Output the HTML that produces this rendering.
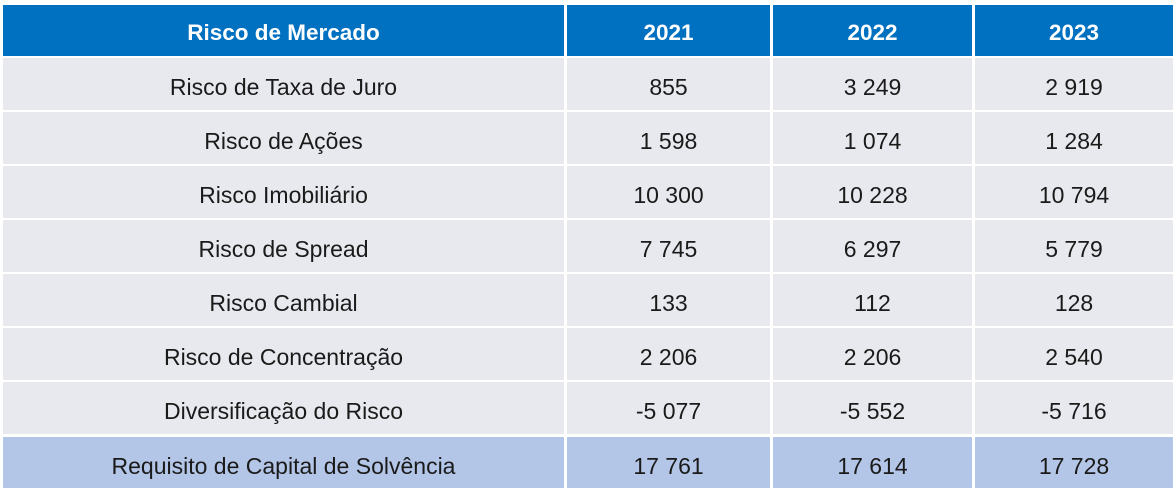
<!DOCTYPE html>
<html><head><meta charset="utf-8"><style>
body{margin:0;width:1176px;height:492px;background:#fff;position:relative;overflow:hidden;font-family:"Liberation Sans",sans-serif;}
.c{position:absolute;display:flex;align-items:center;justify-content:center;font-size:23px;color:#1a1a1a;background:#e8e9ee;box-sizing:border-box;padding-top:7px;}
.h{background:#0070c0;color:#fff;font-weight:bold;font-size:22.5px;padding-top:5px;}
.t{background:#b4c6e7;}
</style></head><body>
<script>
const labels=["Risco de Taxa de Juro","Risco de Ações","Risco Imobiliário","Risco de Spread","Risco Cambial","Risco de Concentração","Diversificação do Risco","Requisito de Capital de Solvência"];
const y2021=["855","1 598","10 300","7 745","133","2 206","-5 077","17 761"];
const y2022=["3 249","1 074","10 228","6 297","112","2 206","-5 552","17 614"];
const y2023=["2 919","1 284","10 794","5 779","128","2 540","-5 716","17 728"];
const headers=["Risco de Mercado","2021","2022","2023"];
const cx=[3,567,773,975], cw=[561,203,199,198];
function cell(x,y,w,h,txt,cls,name){
  const d=document.createElement('div');
  d.className='c '+cls;
  d.style.left=x+'px';d.style.top=y+'px';d.style.width=w+'px';d.style.height=h+'px';
  d.textContent=txt;
  
  
  document.body.appendChild(d);
}
headers.forEach((t,i)=>cell(cx[i],5,cw[i],51,t,'h','header-'+i));
const rowY=[58,112,166,220,274,328,382,437];
labels.forEach((l,r)=>{
  const cls=r===labels.length-1?'t':'';
  const h=r===labels.length-1?51:52;
  cell(cx[0],rowY[r],cw[0],h,l,cls,'row-label');
  cell(cx[1],rowY[r],cw[1],h,y2021[r],cls,'value-2021');
  cell(cx[2],rowY[r],cw[2],h,y2022[r],cls,'value-2022');
  cell(cx[3],rowY[r],cw[3],h,y2023[r],cls,'value-2023');
});
</script>
</body></html>
